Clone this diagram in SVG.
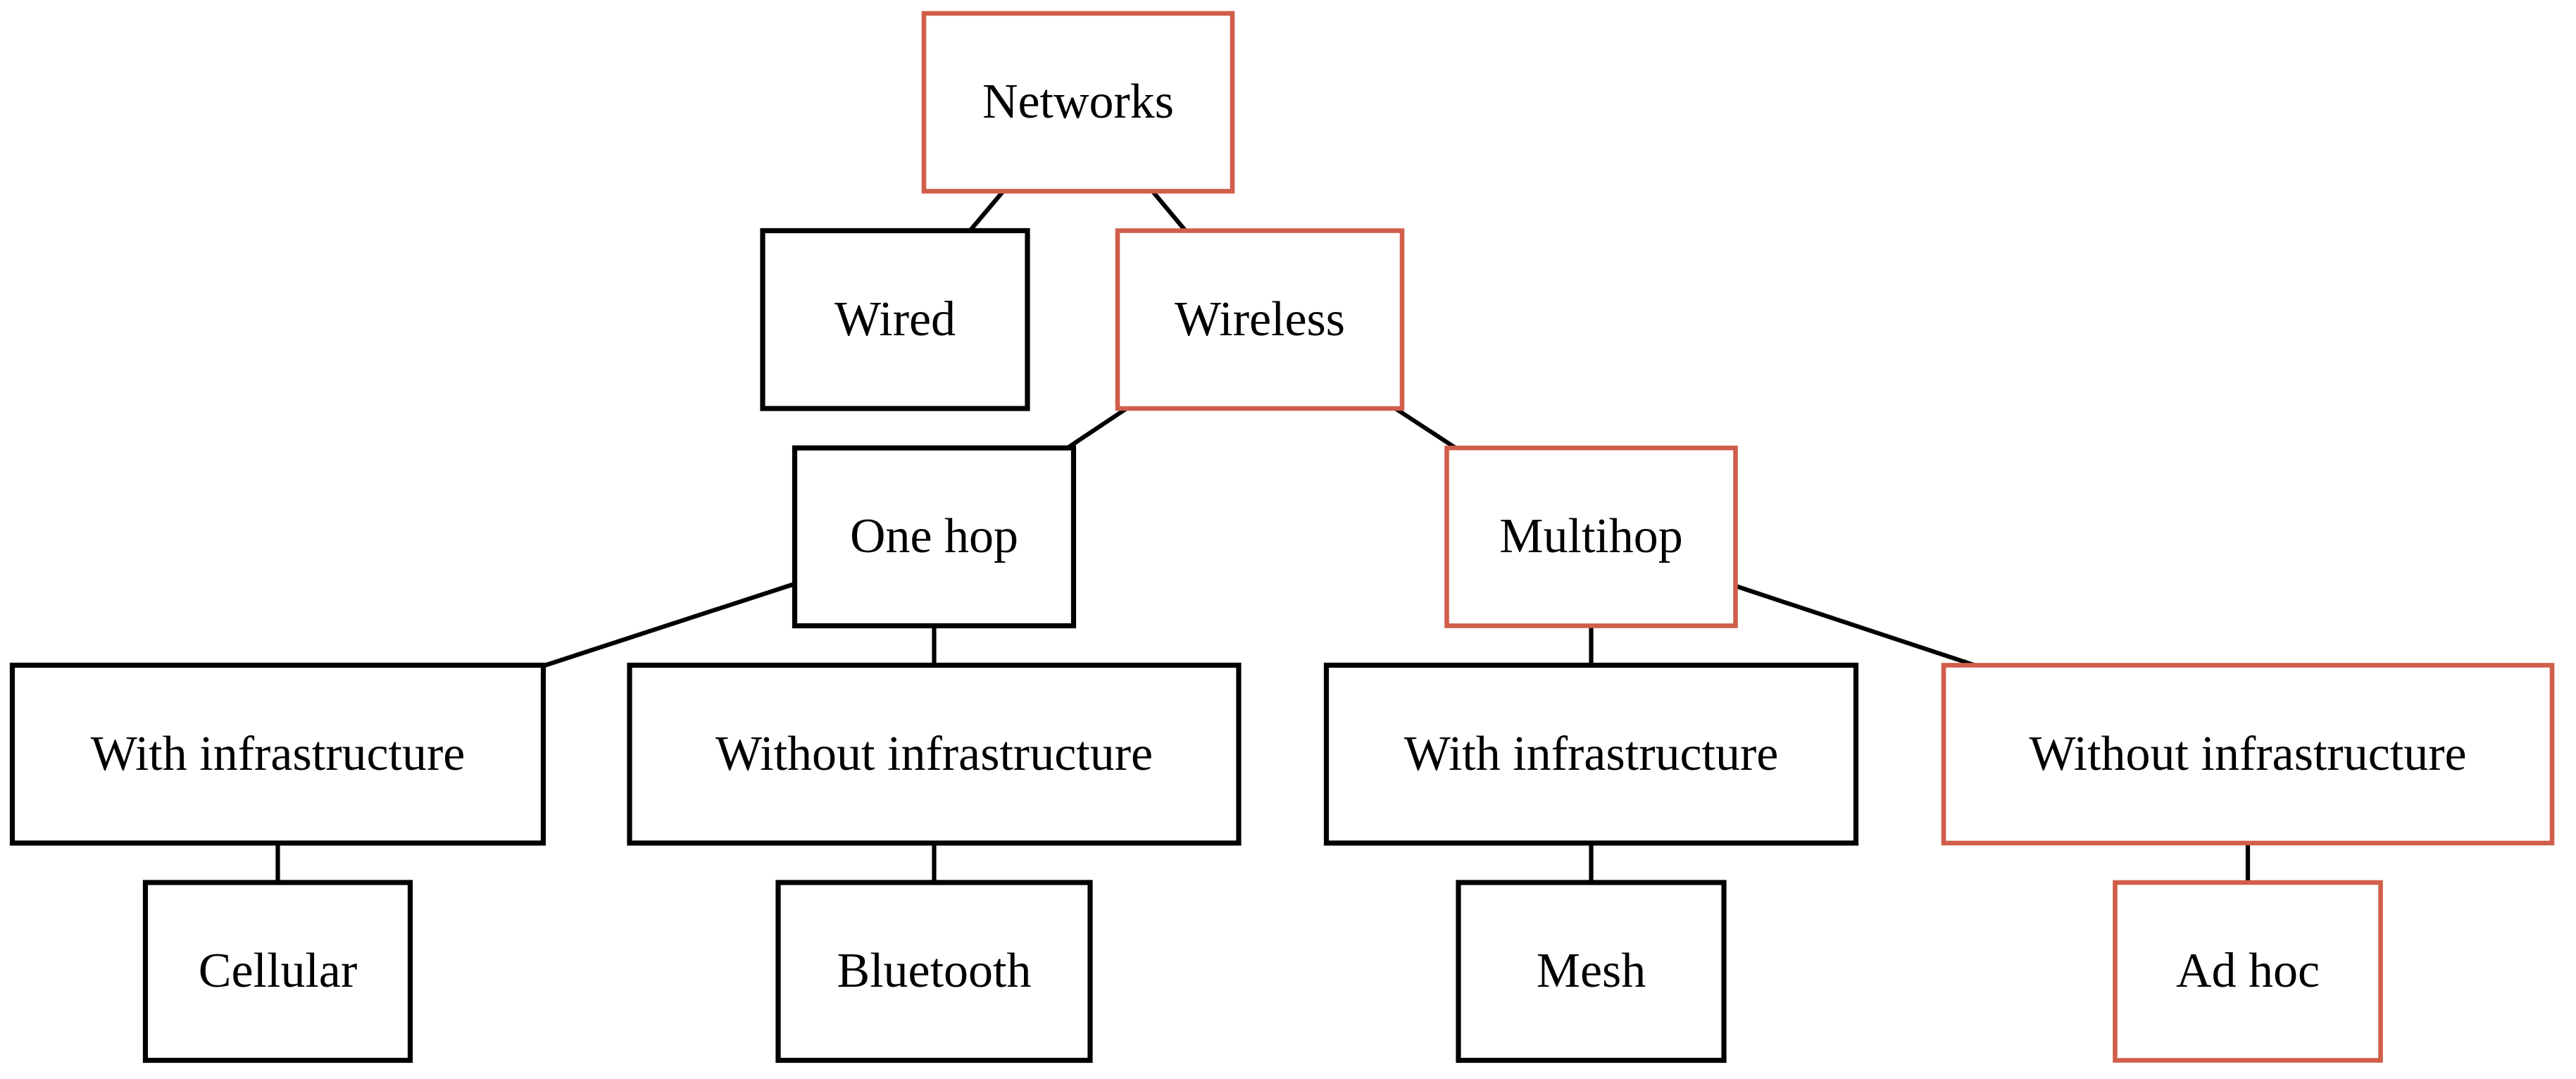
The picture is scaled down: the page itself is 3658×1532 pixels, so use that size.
<svg xmlns="http://www.w3.org/2000/svg" width="3658" height="1532" viewBox="0 0 3658 1532">
  <style>
    .box { fill: #ffffff; stroke: #000000; stroke-width: 7.2; }
    .hl { stroke: #D05E4A; stroke-width: 6.6; }
    .lbl { font-family: "Liberation Serif", "Times New Roman", serif; font-size: 70px; fill: #000000; text-anchor: middle; }
    .conn { stroke: #000000; stroke-width: 6.2; fill: none; stroke-linecap: butt; }
  </style>
  <rect x="0" y="0" width="3658" height="1532" fill="#ffffff"/>
  <g id="connectors">
    <line class="conn" x1="1424.6" y1="271.5" x2="1377.4" y2="327.5"/>
    <line class="conn" x1="1636.6" y1="271.5" x2="1683.4" y2="327.5"/>
    <line class="conn" x1="1599.7" y1="580" x2="1515.8" y2="636"/>
    <line class="conn" x1="1981.5" y1="580" x2="2067" y2="636"/>
    <line class="conn" x1="1128.5" y1="829" x2="773" y2="945"/>
    <line class="conn" x1="1326.5" y1="888.5" x2="1326.5" y2="944.5"/>
    <line class="conn" x1="2259.5" y1="888.5" x2="2259.5" y2="944.5"/>
    <line class="conn" x1="2464.5" y1="832" x2="2804" y2="944.5"/>
    <line class="conn" x1="394.5" y1="1197" x2="394.5" y2="1253"/>
    <line class="conn" x1="1326.5" y1="1197" x2="1326.5" y2="1253"/>
    <line class="conn" x1="2259.5" y1="1197" x2="2259.5" y2="1253"/>
    <line class="conn" x1="3192" y1="1197" x2="3192" y2="1253"/>
  </g>
  <g id="networks">
    <rect class="box hl" x="1312" y="19" width="438" height="252.5"/>
    <text class="lbl" x="1531" y="167">Networks</text>
  </g>
  <g id="wired">
    <rect class="box" x="1083" y="327.5" width="376" height="252.5"/>
    <text class="lbl" x="1271" y="476">Wired</text>
  </g>
  <g id="wireless">
    <rect class="box hl" x="1587" y="327.5" width="404" height="252.5"/>
    <text class="lbl" x="1789" y="476">Wireless</text>
  </g>
  <g id="one-hop">
    <rect class="box" x="1128.5" y="636" width="396" height="252.5"/>
    <text class="lbl" x="1326.5" y="784">One hop</text>
  </g>
  <g id="multihop">
    <rect class="box hl" x="2054.5" y="636" width="410" height="252.5"/>
    <text class="lbl" x="2259.5" y="784">Multihop</text>
  </g>
  <g id="onehop-with-infra">
    <rect class="box" x="17.5" y="944.5" width="754" height="252.5"/>
    <text class="lbl" x="394.5" y="1093">With infrastructure</text>
  </g>
  <g id="onehop-without-infra">
    <rect class="box" x="894" y="944.5" width="865" height="252.5"/>
    <text class="lbl" x="1326.5" y="1093">Without infrastructure</text>
  </g>
  <g id="multihop-with-infra">
    <rect class="box" x="1883.5" y="944.5" width="752" height="252.5"/>
    <text class="lbl" x="2259.5" y="1093">With infrastructure</text>
  </g>
  <g id="multihop-without-infra">
    <rect class="box hl" x="2760" y="944.5" width="864" height="252.5"/>
    <text class="lbl" x="3192" y="1093">Without infrastructure</text>
  </g>
  <g id="cellular">
    <rect class="box" x="206.5" y="1253" width="376" height="252.5"/>
    <text class="lbl" x="394.5" y="1401">Cellular</text>
  </g>
  <g id="bluetooth">
    <rect class="box" x="1105" y="1253" width="443" height="252.5"/>
    <text class="lbl" x="1326.5" y="1401">Bluetooth</text>
  </g>
  <g id="mesh">
    <rect class="box" x="2071" y="1253" width="377" height="252.5"/>
    <text class="lbl" x="2259.5" y="1401">Mesh</text>
  </g>
  <g id="ad-hoc">
    <rect class="box hl" x="3003.5" y="1253" width="377" height="252.5"/>
    <text class="lbl" x="3192" y="1401">Ad hoc</text>
  </g>
</svg>
